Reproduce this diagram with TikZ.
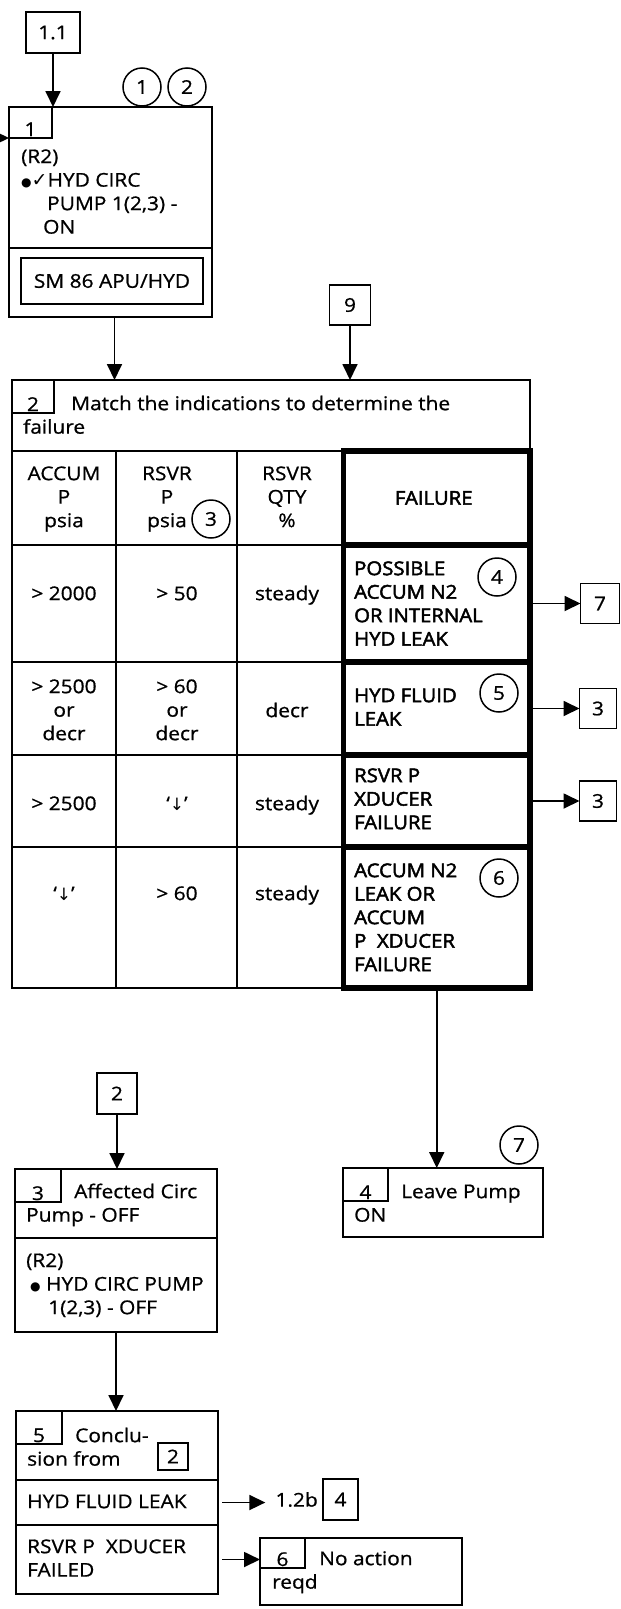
\documentclass[tikz,border=0pt]{standalone}
\usepackage{fontspec}
\setmainfont{Open Sans}[FakeStretch=1.1, FakeBold=0.8]
\newfontfamily\failfont{Open Sans}[FakeStretch=1.07, FakeBold=2.4]
\newfontfamily\symfont{DejaVu Sans}
\usetikzlibrary{arrows.meta}

\begin{document}
\begin{tikzpicture}[x=1pt, y=-1pt,
  font=\fontsize{19}{23.5}\selectfont,
  gridline/.style={line width=1.8pt},
  box/.style={draw, line width=1.8pt, anchor=north west, inner sep=0pt, outer sep=0pt},
  tabbox/.style={box, minimum width=45pt, minimum height=33pt},
  refbox/.style={draw, line width=1.8pt, minimum width=40pt, minimum height=40pt, inner sep=0pt, outer sep=0pt},
  failcell/.style={draw, line width=5.5pt, anchor=north west, inner sep=0pt, outer sep=0pt, minimum width=186.5pt},
  tag/.style={circle, draw, line width=1.5pt, minimum size=38pt, inner sep=0pt, fill=white},
  num/.style={anchor=base, inner sep=0pt},
  txt/.style={anchor=north west, align=left, inner sep=0pt},
  ctxt/.style={anchor=north, align=center, inner sep=0pt},
  failtxt/.style={txt, font=\fontsize{19}{23.5}\failfont},
  arr/.style={line width=1.8pt, -{Triangle[length=16pt, width=15pt]}}]
\path[fill=white] (0,0) rectangle (621,1609);
\useasboundingbox (0,0) rectangle (621,1609);

% step 1: pump on
\node[refbox, minimum width=54pt, minimum height=41pt] (r11) at (53,32.5) {1.1};
\node[box, minimum width=203pt, minimum height=141pt] (b1a) at (9,107) {};
\node[box, minimum width=203pt, minimum height=69pt] (b1b) at (9,248) {};
\node[tabbox, minimum width=43pt, minimum height=31pt] (t1) at (b1a.north west) {};
\node[num] (n1) at ([yshift=2pt]t1.south) {1};
\node[txt] (s1) at (21,146.5) {\strut(R2)\\{\symfont\fontsize{12}{12}\selectfont ●}{\symfont ✓}HYD CIRC\\\hspace*{26pt}PUMP 1(2,3) -\\\hspace*{22pt}ON};
\node[refbox, minimum width=182pt, minimum height=46pt] (sm86) at (112,281) {SM 86 APU/HYD};
\node[tag] (c1) at (142,87) {1};
\node[tag] (c2) at (187,87) {2};
\coordinate (in1) at (0,138);
\draw[arr] (r11.south) -- (r11.south |- b1a.north);
\draw[arr] (in1) -- (in1 -| b1a.west);

% step 2: indication table
\node[box, minimum width=518pt, minimum height=608pt] (tbl) at (12,380) {};
\node[tabbox, minimum width=42pt] (t2) at (tbl.north west) {};
\node[num] (n2) at ([yshift=2pt]t2.south) {2};
\node[txt] (q2) at (23,393.5) {\strut\hspace*{48pt}Match the indications to determine the\\failure};
\node[refbox, minimum width=41pt] (r9) at (350,305) {9};
\draw[arr] ([xshift=4pt]b1b.south) -- ([xshift=4pt]b1b.south |- tbl.north);
\draw[arr] (r9.south) -- (r9.south |- tbl.north);
\draw[gridline] (12,451) -- (530,451);
\foreach \x in {116,237} \draw[gridline] (\x,451) -- (\x,988);
\foreach \y in {545,662,755,847} \draw[gridline] (12,\y) -- (343,\y);
% failure column (heavy cells)
\foreach \i/\ya/\yb in {0/451/545,1/545/662,2/662/755,3/755/847,4/847/988}
  \node[failcell, minimum height=\yb-\ya] (f\i) at (343.5,\ya) {};
\node[ctxt] (h1) at (64,463.5) {\strut ACCUM\\P\\psia};
\node[ctxt] (h2) at (167,463.5) {\strut RSVR\\P\\psia};
\node[ctxt] (h3) at (287,463.5) {\strut RSVR\\QTY\\\%};
\node[font=\fontsize{19}{23.5}\failfont] (h4) at ([xshift=-3pt]f0.center) {FAILURE};
\node[tag] (c3) at (211,519) {3};
% indication rows
\node[ctxt] (a1) at (64,583.5) {\strut> 2000};
\node[ctxt] (p1) at (177,583.5) {\strut> 50};
\node[ctxt] (q1) at (287,583.5) {\strut steady};
\node[ctxt] (a2) at (64,676.5) {\strut> 2500\\or\\decr};
\node[ctxt] (p2) at (177,676.5) {\strut> 60\\or\\decr};
\node[ctxt] (q2r) at (287,700.5) {\strut decr};
\node[ctxt] (a3) at (64,793.5) {\strut> 2500};
\node[ctxt] (p3) at (177,793.5) {\strut`{\symfont\fontsize{17}{17}\selectfont ↓}'};
\node[ctxt] (q3) at (287,793.5) {\strut steady};
\node[ctxt] (a4) at (64,883.5) {\strut`{\symfont\fontsize{17}{17}\selectfont ↓}'};
\node[ctxt] (p4) at (177,883.5) {\strut> 60};
\node[ctxt] (q4) at (287,883.5) {\strut steady};
% failures
\node[failtxt] (e1) at (354,558.5) {\strut POSSIBLE\\ACCUM N2\\OR INTERNAL\\HYD LEAK};
\node[failtxt] (e2) at (354,685.5) {\strut HYD FLUID\\LEAK};
\node[failtxt] (e3) at (354,765.5) {\strut RSVR P\\XDUCER\\FAILURE};
\node[failtxt] (e4) at (354,860.5) {\strut ACCUM N2\\LEAK OR\\ACCUM\\P~~XDUCER\\FAILURE};
\node[tag] (c4) at (497,577) {4};
\node[tag] (c5) at (499,693) {5};
\node[tag] (c6) at (499,878) {6};
\node[refbox, minimum width=39pt] (r7) at (600,603.5) {7};
\node[refbox, minimum width=37pt] (r3a) at (598,708.5) {3};
\node[refbox, minimum width=37pt] (r3b) at (598,801) {3};
\draw[arr] (f1.east) -- (r7.west);
\draw[arr] (f2.east) -- (r3a.west);
\draw[arr] (f3.east) -- (r3b.west);

% step 4: leave pump on
\node[box, minimum width=200pt, minimum height=69pt] (b4) at (343,1168) {};
\node[tabbox] (t4) at (b4.north west) {};
\node[num] (n4) at ([yshift=2pt]t4.south) {4};
\node[txt] (s4) at (354,1181.5) {\strut\hspace*{47pt}Leave Pump\\ON};
\node[tag] (c7) at (519,1145) {7};
\draw[arr] (f4.south) -- (f4.south |- b4.north);

% step 3: affected pump off
\node[refbox, minimum height=41pt] (r2) at (117,1093.5) {2};
\node[box, minimum width=202pt, minimum height=69pt] (b3a) at (15,1169) {};
\node[box, minimum width=202pt, minimum height=94pt] (b3b) at (15,1238) {};
\node[tabbox, minimum width=46pt] (t3) at (b3a.north west) {};
\node[num] (n3) at ([yshift=2pt]t3.south) {3};
\node[txt] (s3) at (26,1181.5) {\strut\hspace*{48pt}Affected Circ\\Pump - OFF};
\node[txt] (s3b) at (26,1250.5) {\strut(R2)\\\hspace*{4pt}{\symfont\fontsize{12}{12}\selectfont ●}\ HYD CIRC PUMP\\\hspace*{22pt}1(2,3) - OFF};
\draw[arr] (r2.south) -- (r2.south |- b3a.north);

% step 5: conclusion
\node[box, minimum width=202pt, minimum height=69pt] (b5a) at (16,1411) {};
\node[box, minimum width=202pt, minimum height=45pt] (b5b) at (16,1480) {};
\node[box, minimum width=202pt, minimum height=69pt] (b5c) at (16,1525) {};
\node[tabbox, minimum width=46pt] (t5) at (b5a.north west) {};
\node[num] (n5) at ([yshift=2pt]t5.south) {5};
\node[txt] (s5) at (27,1425.5) {\strut\hspace*{48pt}Conclu-\\sion from};
\node[refbox, minimum width=30pt, minimum height=27pt] (rs2) at (173,1456.5) {2};
\node[txt] (s5b) at (27,1491.5) {\strut HYD FLUID LEAK};
\node[txt] (s5c) at (27,1536.5) {\strut RSVR P~~XDUCER\\FAILED};
\draw[arr] (b3b.south) -- (b3b.south |- b5a.north);
\node[refbox, minimum width=35pt, minimum height=41pt] (r4b) at (340.5,1499.5) {4};
\node[anchor=east, inner sep=0pt] (l12b) at ([xshift=-5pt]r4b.west) {1.2b};
\draw[arr] ([xshift=4pt]b5b.east) -- ([xshift=-10pt]b5b.east -| l12b.west);

% step 6: no action
\node[box, minimum width=202pt, minimum height=67pt] (b6) at (260,1538) {};
\node[tabbox, minimum height=30pt] (t6) at (b6.north west) {};
\node[num] (n6) at ([yshift=2pt]t6.south) {6};
\node[txt] (s6) at (272,1548.5) {\strut\hspace*{47pt}No action\\reqd};
\draw[arr] ([xshift=4pt]b5c.east) -- (b5c.east -| b6.west);
\end{tikzpicture}
\end{document}
